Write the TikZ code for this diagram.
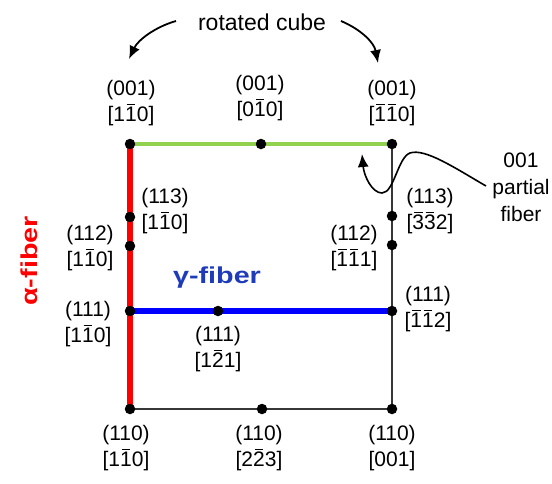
\documentclass[tikz,border=0pt]{standalone}
\usepackage{fontspec}
\setmainfont{Liberation Sans}
\newfontfamily\fiberfont[FakeStretch=1.25]{Liberation Sans}
\usetikzlibrary{arrows.meta}
\newsavebox\obbox
\newcommand\ob[1]{\sbox\obbox{#1}\rlap{\hspace{0.12\wd\obbox}\rule[0.78em]{0.76\wd\obbox}{0.065em}}\usebox\obbox}
\definecolor{fgreen}{RGB}{146,208,80}
\definecolor{fblue}{RGB}{0,0,255}
\definecolor{tblue}{RGB}{30,60,185}
\definecolor{fred}{RGB}{255,0,0}
\definecolor{lgray}{RGB}{55,55,55}
\begin{document}
\begin{tikzpicture}[x=1pt,y=-1pt,
  dot/.style={circle,fill=black,inner sep=0pt,minimum size=10.5pt},
  lab/.style={align=center,font=\fontsize{21}{26.5}\selectfont,inner sep=0pt},
  blk/.style={draw=lgray,line width=2.2pt},
  grn/.style={draw=fgreen,line width=4pt},
  blu/.style={draw=fblue,line width=6pt},
  rd/.style={draw=fred,line width=6pt},
  arr/.style={draw=black,line width=1.8pt,-{Latex[length=13pt,width=11pt]}},
  fib/.style={font=\fiberfont\bfseries\fontsize{23}{28}\selectfont,inner sep=0pt}]
\useasboundingbox (0,0) rectangle (552,483);
% points
\coordinate (TL) at (130,144);
\coordinate (TM) at (261,144);
\coordinate (TR) at (392,144);
\coordinate (L3) at (130,217);
\coordinate (L2) at (130,246);
\coordinate (L1) at (130,311);
\coordinate (R3) at (392,216);
\coordinate (R2) at (392,245);
\coordinate (R1) at (392,311);
\coordinate (GM) at (218,311);
\coordinate (BL) at (130,409);
\coordinate (BM) at (262,409);
\coordinate (BR) at (392,409);
% lines
\draw[blk] (TR) -- (BR);
\draw[blk] (BL) -- (BR);
\draw[grn] (TL) -- (TR);
\draw[blu] (L1) -- (R1);
\draw[rd] (TL) -- (BL);
% dots
\foreach \p in {TL,TM,TR,L3,L2,L1,R3,R2,R1,GM,BL,BM,BR}
  \node[dot] (d\p) at (\p) {};
% labels
\node[lab] (lTL) at (131,103) {(001)\\{}[1\ob{1}0]};
\node[lab] (lTM) at (260,98) {(001)\\{}[0\ob{1}0]};
\node[lab] (lTR) at (392,103) {(001)\\{}[\ob{1}\ob{1}0]};
\node[lab] (lL3) at (165,211) {(113)\\{}[1\ob{1}0]};
\node[lab] (lL2) at (90,248) {(112)\\{}[1\ob{1}0]};
\node[lab] (lL1) at (88,324) {(111)\\{}[1\ob{1}0]};
\node[lab] (lGM) at (218,349) {(111)\\{}[1\ob{2}1]};
\node[lab] (lR3) at (430,211) {(113)\\{}[\ob{3}\ob{3}2]};
\node[lab] (lR2) at (354,248) {(112)\\{}[\ob{1}\ob{1}1]};
\node[lab] (lR1) at (428,309) {(111)\\{}[\ob{1}\ob{1}2]};
\node[lab] (lBL) at (126,448) {(110)\\{}[1\ob{1}0]};
\node[lab] (lBM) at (259,448) {(110)\\{}[2\ob{2}3]};
\node[lab] (lBR) at (392,448) {(110)\\{}[001]};
% fiber names
\node[fib,text=fred,rotate=90] (alpha) at (29,261) {α-fiber};
\node[fib,text=tblue] (gamma) at (217,278) {γ-fiber};
% rotated cube
\node[font=\fontsize{23}{27}\selectfont,inner sep=0pt] (rc) at (262,22) {rotated cube};
\coordinate (a1s) at (176,21);
\coordinate (a1e) at (129,59);
\coordinate (a2s) at (341,21);
\coordinate (a2e) at (378,63);
\draw[arr] (a1s) .. controls (155,27) and (138,40) .. (a1e);
\draw[arr] (a2s) .. controls (360,29) and (374,42) .. (a2e);
% partial fiber
\node[align=center,font=\fontsize{21}{27}\selectfont,inner sep=0pt] (pf) at (521,187) {001\\partial\\fiber};
\coordinate (ps) at (486,186);
\coordinate (pe) at (362,154);
\draw[arr,line width=1.6pt] (ps) .. controls (455,168) and (425,148) .. (410,153)
  .. controls (398,157) and (394,193) .. (382,193)
  .. controls (372,193) and (364,176) .. (pe);
\end{tikzpicture}
\end{document}
